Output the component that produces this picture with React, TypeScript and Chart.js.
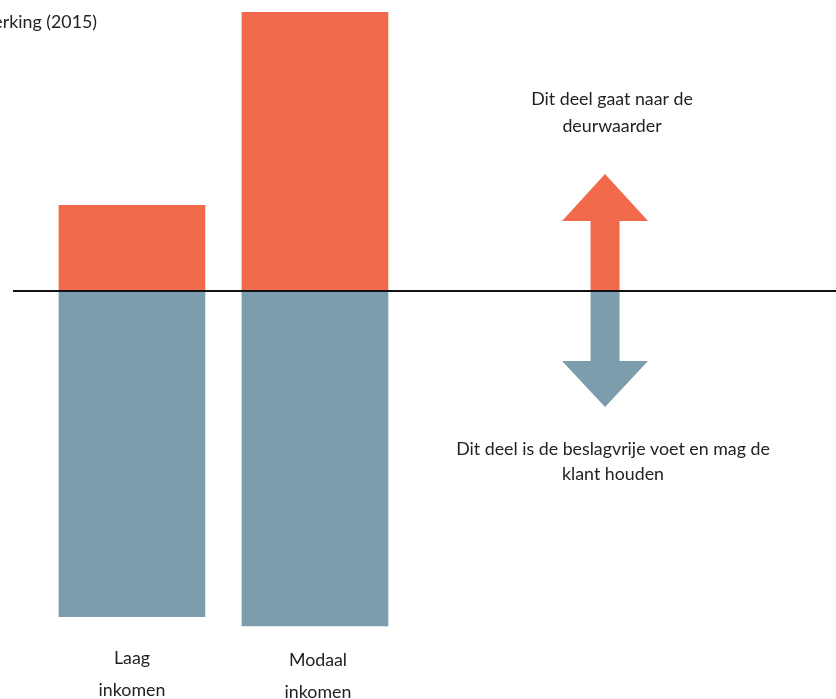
import React, { useEffect, useRef } from "react";
import { Chart, registerables } from "chart.js";

Chart.register(...registerables);

const categories = ["Laag inkomen", "Modaal inkomen"];
const categoryPositions = [1, 2];
const deurwaarderDeel = [300, 975];
const beslagvrijeVoet = [-1140, -1172];
const titleText = "erking (2015)";
const upText = ["Dit deel gaat naar de", "deurwaarder"];
const downText = ["Dit deel is de beslagvrije voet en mag de", "klant houden"];
const arrowPosition = 3.585;

const ORANGE = "#F26A4C";
const BLUE = "#7B9DAC";
const FONT = "17.8px Lato, 'Open Sans', sans-serif";

const overlay = {
  id: "overlay",
  afterDatasetsDraw(chart: any) {
    const ctx = chart.ctx;
    const xs = chart.scales.x;
    const ys = chart.scales.y;
    const area = chart.chartArea;
    const zeroY = ys.getPixelForValue(0);

    // arrows
    const ax = xs.getPixelForValue(arrowPosition);
    const shaftHalf = 14.5;
    const headHalf = 43;
    ctx.save();
    ctx.fillStyle = ORANGE;
    ctx.beginPath();
    ctx.moveTo(ax, zeroY - 117);
    ctx.lineTo(ax + headHalf, zeroY - 70);
    ctx.lineTo(ax + shaftHalf, zeroY - 70);
    ctx.lineTo(ax + shaftHalf, zeroY);
    ctx.lineTo(ax - shaftHalf, zeroY);
    ctx.lineTo(ax - shaftHalf, zeroY - 70);
    ctx.lineTo(ax - headHalf, zeroY - 70);
    ctx.closePath();
    ctx.fill();
    ctx.fillStyle = BLUE;
    ctx.beginPath();
    ctx.moveTo(ax, zeroY + 116);
    ctx.lineTo(ax + headHalf, zeroY + 70);
    ctx.lineTo(ax + shaftHalf, zeroY + 70);
    ctx.lineTo(ax + shaftHalf, zeroY);
    ctx.lineTo(ax - shaftHalf, zeroY);
    ctx.lineTo(ax - shaftHalf, zeroY + 70);
    ctx.lineTo(ax - headHalf, zeroY + 70);
    ctx.closePath();
    ctx.fill();

    // zero line
    ctx.strokeStyle = "#111";
    ctx.lineWidth = 2;
    ctx.beginPath();
    ctx.moveTo(area.left, zeroY);
    ctx.lineTo(area.right, zeroY);
    ctx.stroke();

    // texts
    ctx.fillStyle = "#222";
    ctx.font = FONT;
    ctx.textBaseline = "middle";
    ctx.textAlign = "right";
    ctx.fillText(titleText, 97, 22);

    ctx.textAlign = "center";
    ctx.fillText(upText[0], 612, 99);
    ctx.fillText(upText[1], 612, 126);
    ctx.fillText(downText[0], 613, 449);
    ctx.fillText(downText[1], 613, 474);

    const yOffsets = [0, 2];
    const xOffsets = [0, 3];
    categories.forEach((c, i) => {
      const px = xs.getPixelForValue(categoryPositions[i]) + xOffsets[i];
      const words = c.split(" ");
      ctx.fillText(words[0], px, 658 + yOffsets[i]);
      ctx.fillText(words[1], px, 690 + yOffsets[i]);
    });
    ctx.restore();
  },
};

export default function App() {
  const ref = useRef<HTMLCanvasElement>(null);
  useEffect(() => {
    if (!ref.current) return;
    const chart = new Chart(ref.current, {
      type: "bar",
      data: {
        datasets: [
          {
            label: "Deurwaarder",
            data: categoryPositions.map((x, i) => ({ x, y: deurwaarderDeel[i] })),
            backgroundColor: ORANGE,
            borderWidth: 0,
            barThickness: 146,
          },
          {
            label: "Beslagvrije voet",
            data: categoryPositions.map((x, i) => ({ x, y: beslagvrijeVoet[i] })),
            backgroundColor: BLUE,
            borderWidth: 0,
            barThickness: 146,
          },
        ],
      },
      options: {
        animation: false,
        responsive: true,
        maintainAspectRatio: false,
        layout: { padding: { left: 13, right: 0, top: 0, bottom: 0 } },
        plugins: { legend: { display: false }, tooltip: { enabled: false } },
        scales: {
          x: { type: "linear", min: 0.35, max: 4.847, display: false, stacked: true, offset: false },
          y: { min: -1428, max: 1018.5, display: false, stacked: true },
        },
      },
      plugins: [overlay],
    } as any);
    return () => chart.destroy();
  }, []);
  return (
    <div style={{ position: "fixed", left: 0, top: 0, width: 836, height: 699, background: "#fff" }}>
      <canvas ref={ref} />
    </div>
  );
}
